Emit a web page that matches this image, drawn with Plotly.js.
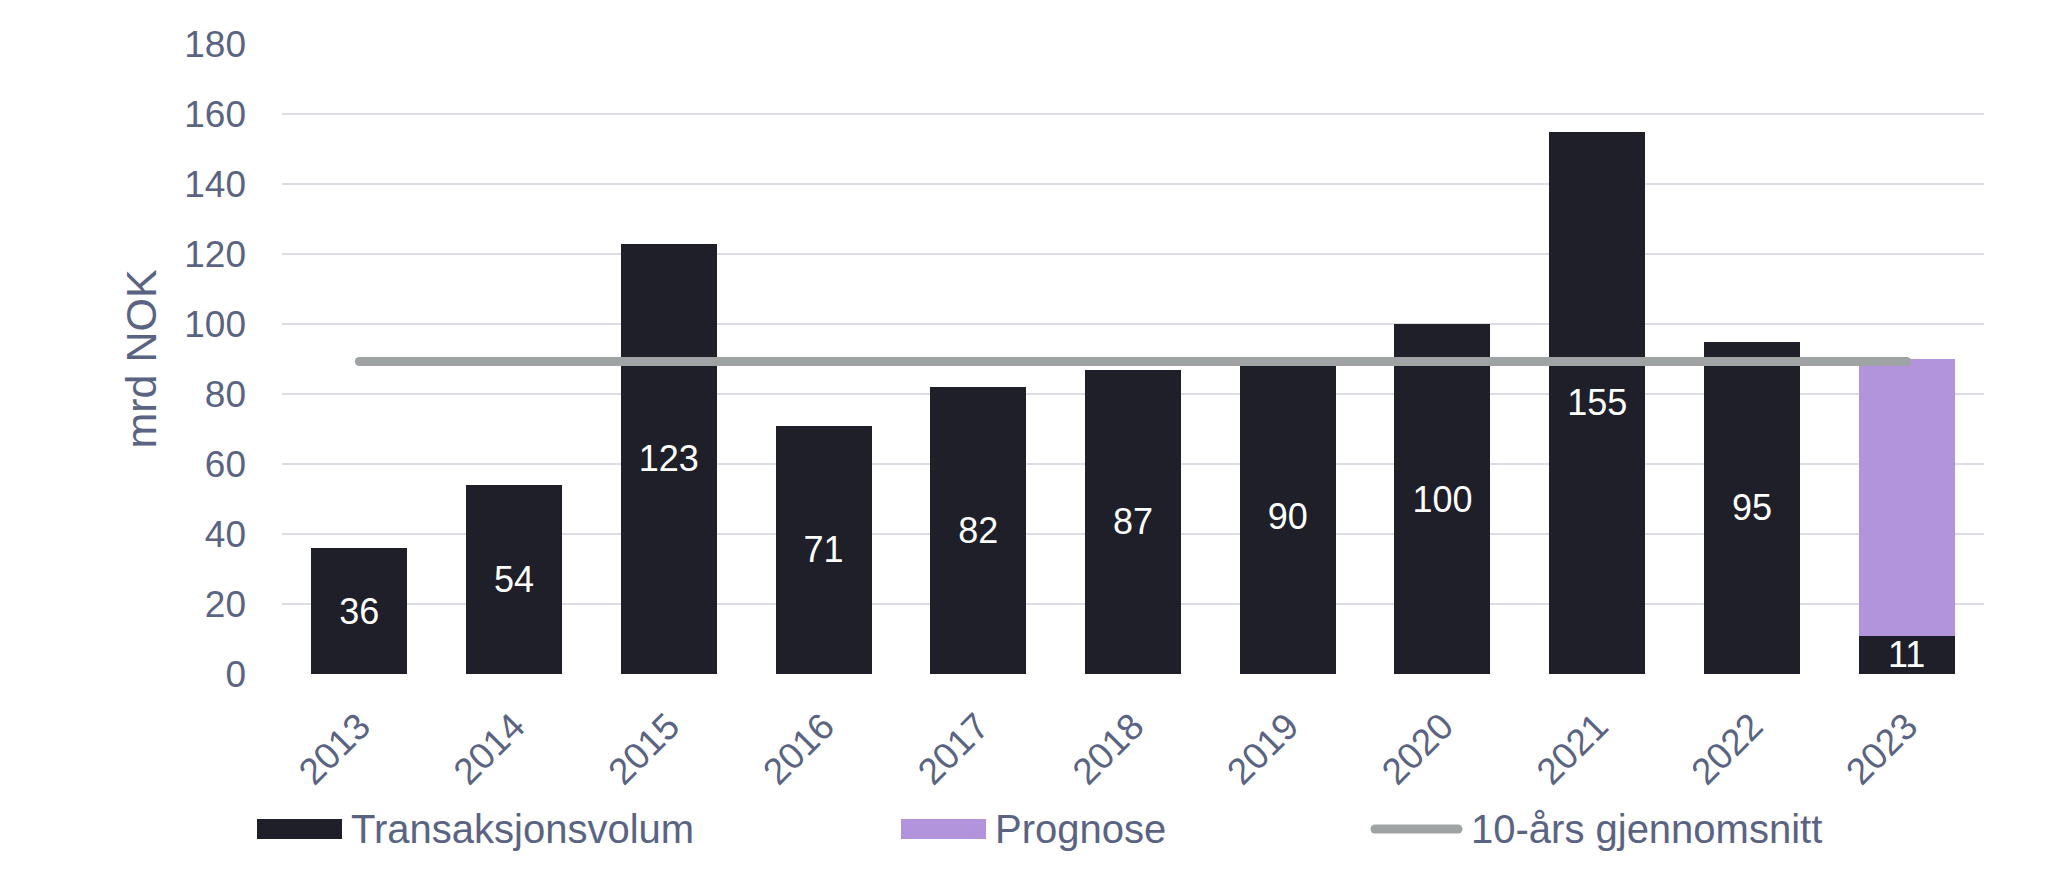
<!DOCTYPE html>
<html>
<head>
<meta charset="utf-8">
<script src="https://cdn.plot.ly/plotly-3.0.1.min.js"></script>
<style>
html, body { margin: 0; padding: 0; background: #ffffff; }
#chart { width: 2048px; height: 889px; }
.scatterlayer path.js-line { stroke-linecap: round; }
.shapelayer path { stroke-linecap: round; }
</style>
</head>
<body>
<div id="chart"></div>
<script>
const years = ['2013','2014','2015','2016','2017','2018','2019','2020','2021','2022','2023'];
const transaksjonsvolum = [36, 54, 123, 71, 82, 87, 90, 100, 155, 95, 11];
const prognose = [null, null, null, null, null, null, null, null, null, null, 79];
const avgYears = ['2013', '2023'];
const avgValues = [89.3, 89.3];
const yTicks = [0, 20, 40, 60, 80, 100, 120, 140, 160, 180];
const legendLabels = ['Transaksjonsvolum', 'Prognose', '10-års gjennomsnitt'];

const textColor = '#5A6482';
const barDark = '#1E1F29';
const barPurple = '#B294DC';
const avgGray = '#A0A3A3';
const font = 'Liberation Sans, Arial, Helvetica, sans-serif';

const traces = [
  {
    type: 'bar', name: legendLabels[0], x: years, y: transaksjonsvolum,
    marker: { color: barDark },
    text: transaksjonsvolum.map(String), textposition: 'inside', textangle: 0,
    insidetextanchor: 'middle', constraintext: 'none',
    textfont: { color: '#ffffff', size: 36, family: font },
    hoverinfo: 'x+y'
  },
  {
    type: 'bar', name: legendLabels[1], x: years, y: prognose,
    marker: { color: barPurple }, hoverinfo: 'x+y'
  },
  {
    type: 'scatter', mode: 'lines', name: legendLabels[2], x: avgYears, y: avgValues,
    line: { color: avgGray, width: 9 }, hoverinfo: 'y'
  }
];

// plot area in pixels: left 282, right 1984, top 44, bottom 674
const PL = 282, PR = 1984, PT = 44, PB = 674;
const px = v => (v - PL) / (PR - PL);
const py = v => (PB - v) / (PB - PT);

const layout = {
  width: 2048, height: 889,
  margin: { l: PL, r: 2048 - PR, t: PT, b: 889 - PB, pad: 0 },
  paper_bgcolor: '#ffffff', plot_bgcolor: '#ffffff',
  barmode: 'stack', bargap: 0.38,
  showlegend: false,
  font: { family: font, color: textColor, size: 36 },
  xaxis: {
    type: 'category', tickangle: -45, ticks: '', showgrid: false,
    showline: false, zeroline: false, automargin: false,
    ticklabelstandoff: 22,
    tickfont: { size: 37, color: textColor, family: font }
  },
  yaxis: {
    range: [0, 180], tickvals: yTicks, ticktext: yTicks.map(String),
    ticks: '', showline: false, zeroline: false, automargin: false,
    gridcolor: '#DCDCE5', gridwidth: 2,
    ticklabelstandoff: 35,
    tickfont: { size: 37, color: textColor, family: font },
    title: { text: 'mrd NOK', standoff: 14, font: { size: 43, color: textColor, family: font } }
  },
  shapes: [
    { type: 'rect', xref: 'paper', yref: 'paper', x0: px(257), x1: px(342), y0: py(839), y1: py(819),
      fillcolor: barDark, line: { width: 0 } },
    { type: 'rect', xref: 'paper', yref: 'paper', x0: px(901), x1: px(986), y0: py(839), y1: py(819),
      fillcolor: barPurple, line: { width: 0 } },
    { type: 'line', xref: 'paper', yref: 'paper', x0: px(1375), x1: px(1458), y0: py(829), y1: py(829),
      line: { color: avgGray, width: 9 } }
  ],
  annotations: [
    { xref: 'paper', yref: 'paper', x: px(349), y: py(829), xanchor: 'left', yanchor: 'middle',
      text: legendLabels[0], showarrow: false, font: { size: 40, color: textColor, family: font } },
    { xref: 'paper', yref: 'paper', x: px(993), y: py(829), xanchor: 'left', yanchor: 'middle',
      text: legendLabels[1], showarrow: false, font: { size: 40, color: textColor, family: font } },
    { xref: 'paper', yref: 'paper', x: px(1469), y: py(829), xanchor: 'left', yanchor: 'middle',
      text: legendLabels[2], showarrow: false, font: { size: 40, color: textColor, family: font } }
  ]
};

Plotly.newPlot('chart', traces, layout, { displayModeBar: false, staticPlot: true });
</script>
</body>
</html>
